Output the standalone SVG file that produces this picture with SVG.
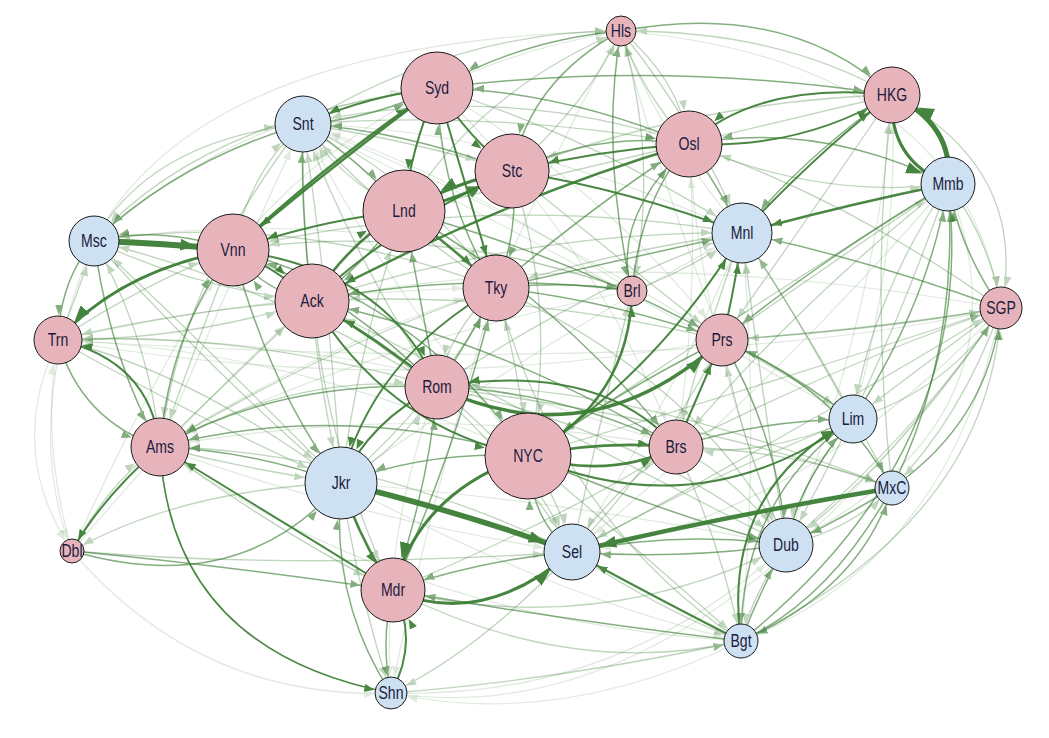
<svg xmlns="http://www.w3.org/2000/svg" width="1049" height="738" viewBox="0 0 1049 738">
<style>
#edges path{fill:none;stroke:#3c7e34}
.l1{stroke-width:1.2;opacity:.16}
.l2{stroke-width:1.3;opacity:.32}
.m{stroke-width:1.5;opacity:.62}
.s{stroke-width:2;opacity:.93}
.s3{stroke-width:3;opacity:.95}
.t4{stroke-width:4.5}
.t6{stroke-width:6}
marker path{fill:#3c7e34;stroke:none}
.node circle{stroke:#1a1a1a;stroke-width:1}
.p{fill:#e8b4bc}
.b{fill:#cde1f3}
.node text{font-family:'Liberation Sans',Arial,sans-serif;font-size:19px;fill:#1b1b3d;text-anchor:middle;dominant-baseline:central}
</style>
<defs>
<marker id="a12" markerUnits="userSpaceOnUse" markerWidth="10" markerHeight="8" refX="23" refY="4" orient="auto"><path d="M0,0L10,4L0,8z"/></marker>
<marker id="a15" markerUnits="userSpaceOnUse" markerWidth="10" markerHeight="8" refX="26" refY="4" orient="auto"><path d="M0,0L10,4L0,8z"/></marker>
<marker id="a16" markerUnits="userSpaceOnUse" markerWidth="10" markerHeight="8" refX="27" refY="4" orient="auto"><path d="M0,0L10,4L0,8z"/></marker>
<marker id="a17" markerUnits="userSpaceOnUse" markerWidth="10" markerHeight="8" refX="28" refY="4" orient="auto"><path d="M0,0L10,4L0,8z"/></marker>
<marker id="a21" markerUnits="userSpaceOnUse" markerWidth="10" markerHeight="8" refX="32" refY="4" orient="auto"><path d="M0,0L10,4L0,8z"/></marker>
<marker id="a24" markerUnits="userSpaceOnUse" markerWidth="10" markerHeight="8" refX="35" refY="4" orient="auto"><path d="M0,0L10,4L0,8z"/></marker>
<marker id="a25" markerUnits="userSpaceOnUse" markerWidth="10" markerHeight="8" refX="36" refY="4" orient="auto"><path d="M0,0L10,4L0,8z"/></marker>
<marker id="a26" markerUnits="userSpaceOnUse" markerWidth="10" markerHeight="8" refX="37" refY="4" orient="auto"><path d="M0,0L10,4L0,8z"/></marker>
<marker id="a27" markerUnits="userSpaceOnUse" markerWidth="10" markerHeight="8" refX="38" refY="4" orient="auto"><path d="M0,0L10,4L0,8z"/></marker>
<marker id="a28" markerUnits="userSpaceOnUse" markerWidth="10" markerHeight="8" refX="39" refY="4" orient="auto"><path d="M0,0L10,4L0,8z"/></marker>
<marker id="a29" markerUnits="userSpaceOnUse" markerWidth="10" markerHeight="8" refX="40" refY="4" orient="auto"><path d="M0,0L10,4L0,8z"/></marker>
<marker id="a30" markerUnits="userSpaceOnUse" markerWidth="10" markerHeight="8" refX="41" refY="4" orient="auto"><path d="M0,0L10,4L0,8z"/></marker>
<marker id="a32" markerUnits="userSpaceOnUse" markerWidth="10" markerHeight="8" refX="43" refY="4" orient="auto"><path d="M0,0L10,4L0,8z"/></marker>
<marker id="a33" markerUnits="userSpaceOnUse" markerWidth="10" markerHeight="8" refX="44" refY="4" orient="auto"><path d="M0,0L10,4L0,8z"/></marker>
<marker id="a36" markerUnits="userSpaceOnUse" markerWidth="10" markerHeight="8" refX="47" refY="4" orient="auto"><path d="M0,0L10,4L0,8z"/></marker>
<marker id="a37" markerUnits="userSpaceOnUse" markerWidth="10" markerHeight="8" refX="48" refY="4" orient="auto"><path d="M0,0L10,4L0,8z"/></marker>
<marker id="a41" markerUnits="userSpaceOnUse" markerWidth="10" markerHeight="8" refX="52" refY="4" orient="auto"><path d="M0,0L10,4L0,8z"/></marker>
<marker id="a43" markerUnits="userSpaceOnUse" markerWidth="10" markerHeight="8" refX="54" refY="4" orient="auto"><path d="M0,0L10,4L0,8z"/></marker>
<marker id="b24" markerUnits="userSpaceOnUse" markerWidth="16" markerHeight="12" refX="41" refY="6" orient="auto"><path d="M0,0L16,6L0,12z"/></marker>
<marker id="b26" markerUnits="userSpaceOnUse" markerWidth="16" markerHeight="12" refX="43" refY="6" orient="auto"><path d="M0,0L16,6L0,12z"/></marker>
<marker id="b27" markerUnits="userSpaceOnUse" markerWidth="16" markerHeight="12" refX="44" refY="6" orient="auto"><path d="M0,0L16,6L0,12z"/></marker>
<marker id="b28" markerUnits="userSpaceOnUse" markerWidth="16" markerHeight="12" refX="45" refY="6" orient="auto"><path d="M0,0L16,6L0,12z"/></marker>
<marker id="b32" markerUnits="userSpaceOnUse" markerWidth="16" markerHeight="12" refX="49" refY="6" orient="auto"><path d="M0,0L16,6L0,12z"/></marker>
<marker id="b36" markerUnits="userSpaceOnUse" markerWidth="16" markerHeight="12" refX="53" refY="6" orient="auto"><path d="M0,0L16,6L0,12z"/></marker>
<marker id="b41" markerUnits="userSpaceOnUse" markerWidth="16" markerHeight="12" refX="58" refY="6" orient="auto"><path d="M0,0L16,6L0,12z"/></marker>
</defs>
<rect width="1049" height="738" fill="#ffffff"/>
<g id="edges">
<!-- faint -->
<path class="l1" d="M94,241 Q200,40 621,31" marker-end="url(#a15)"/>
<path class="l1" d="M58,340 Q5,450 72,551" marker-end="url(#a12)"/>
<path class="l1" d="M72,551 Q40,440 58,340" marker-end="url(#a24)"/>
<path class="l1" d="M741,641 Q560,730 391,693" marker-end="url(#a16)"/>
<path class="l1" d="M391,693 Q620,700 786,545" marker-end="url(#a27)"/>
<path class="l1" d="M1001,308 Q950,560 741,641" marker-end="url(#a17)"/>
<path class="l1" d="M1001,308 Q800,520 572,552" marker-end="url(#a28)"/>
<path class="l1" d="M160,447 Q230,280 303,124" marker-end="url(#a28)"/>
<path class="l1" d="M58,340 Q280,290 496,288" marker-end="url(#a33)"/>
<path class="l1" d="M786,545 Q700,340 689,144" marker-end="url(#a33)"/>
<path class="l1" d="M853,419 Q900,250 892,95" marker-end="url(#a28)"/>
<path class="l1" d="M722,340 Q400,400 58,340" marker-end="url(#a24)"/>
<path class="l1" d="M233,250 Q380,70 621,31" marker-end="url(#a15)"/>
<path class="l1" d="M786,545 Q880,300 892,95" marker-end="url(#a28)"/>
<path class="l1" d="M1001,308 Q700,380 58,340" marker-end="url(#a24)"/>
<path class="l1" d="M1001,308 Q620,240 312,301" marker-end="url(#a37)"/>
<path class="l1" d="M72,551 Q200,700 391,693" marker-end="url(#a16)"/>
<path class="l1" d="M391,693 Q700,740 1001,308" marker-end="url(#a21)"/>
<path class="l1" d="M948,184 Q1040,420 786,545" marker-end="url(#a27)"/>
<path class="l1" d="M621,31 Q960,60 1001,308" marker-end="url(#a21)"/>
<path class="l1" d="M94,241 Q20,420 72,551" marker-end="url(#a12)"/>
<path class="l1" d="M741,641 Q400,620 160,447" marker-end="url(#a29)"/>
<path class="l1" d="M303,124 Q560,250 853,419" marker-end="url(#a24)"/>
<path class="l1" d="M528,456 Q380,280 303,124" marker-end="url(#a28)"/>
<path class="l1" d="M632,291 Q450,170 303,124" marker-end="url(#a28)"/>
<path class="l1" d="M722,340 Q500,200 303,124" marker-end="url(#a28)"/>
<path class="l1" d="M742,233 Q520,130 303,124" marker-end="url(#a28)"/>
<path class="l1" d="M632,291 Q360,200 94,241" marker-end="url(#a25)"/>
<path class="l1" d="M528,456 Q300,350 58,340" marker-end="url(#a24)"/>
<path class="l1" d="M676,447 Q360,330 58,340" marker-end="url(#a24)"/>
<path class="l1" d="M632,291 Q380,340 160,447" marker-end="url(#a29)"/>
<path class="l1" d="M676,447 Q420,400 160,447" marker-end="url(#a29)"/>
<path class="l1" d="M496,288 Q430,500 391,693" marker-end="url(#a16)"/>
<path class="l1" d="M437,387 Q380,540 391,693" marker-end="url(#a16)"/>
<path class="l1" d="M496,288 Q560,140 621,31" marker-end="url(#a15)"/>
<path class="l1" d="M722,340 Q660,180 621,31" marker-end="url(#a15)"/>
<path class="l1" d="M742,233 Q650,120 621,31" marker-end="url(#a15)"/>
<path class="l1" d="M741,641 Q760,430 742,233" marker-end="url(#a30)"/>
<path class="l1" d="M572,552 Q680,390 742,233" marker-end="url(#a30)"/>
<path class="l1" d="M341,483 Q560,330 742,233" marker-end="url(#a30)"/>
<path class="l1" d="M341,483 Q560,500 786,545" marker-end="url(#a27)"/>
<path class="l1" d="M160,447 Q360,520 572,552" marker-end="url(#a28)"/>
<path class="l1" d="M341,483 Q560,600 741,641" marker-end="url(#a17)"/>
<path class="l1" d="M689,144 Q700,300 676,447" marker-end="url(#a27)"/>
<path class="l1" d="M437,88 Q600,250 676,447" marker-end="url(#a27)"/>
<path class="l1" d="M437,88 Q620,200 722,340" marker-end="url(#a26)"/>
<path class="l1" d="M94,241 Q240,110 437,88" marker-end="url(#a36)"/>
<path class="l1" d="M72,551 Q150,380 233,250" marker-end="url(#a36)"/>
<path class="l1" d="M72,551 Q200,400 312,301" marker-end="url(#a37)"/>
<path class="l1" d="M948,184 Q760,400 572,552" marker-end="url(#a28)"/>
<path class="l1" d="M160,447 Q330,340 496,288" marker-end="url(#a33)"/>
<!-- light -->
<path class="l2" d="M391,693 Q560,680 741,641" marker-end="url(#a17)"/>
<path class="l2" d="M892,95 Q1030,170 1001,308" marker-end="url(#a21)"/>
<path class="l2" d="M892,95 Q780,30 621,31" marker-end="url(#a15)"/>
<path class="l2" d="M72,551 Q110,480 160,447" marker-end="url(#a29)"/>
<path class="l2" d="M303,124 Q300,300 341,483" marker-end="url(#a36)"/>
<path class="l2" d="M341,483 Q330,300 303,124" marker-end="url(#a28)"/>
<path class="l2" d="M303,124 Q180,280 160,447" marker-end="url(#a29)"/>
<path class="l2" d="M312,301 Q180,310 58,340" marker-end="url(#a24)"/>
<path class="l2" d="M58,340 Q190,340 312,301" marker-end="url(#a37)"/>
<path class="l2" d="M58,340 Q200,420 341,483" marker-end="url(#a36)"/>
<path class="l2" d="M160,447 Q250,360 312,301" marker-end="url(#a37)"/>
<path class="l2" d="M160,447 Q300,370 437,387" marker-end="url(#a32)"/>
<path class="l2" d="M160,447 Q250,470 341,483" marker-end="url(#a36)"/>
<path class="l2" d="M341,483 Q360,340 404,211" marker-end="url(#a41)"/>
<path class="l2" d="M393,590 Q560,520 676,447" marker-end="url(#a27)"/>
<path class="l2" d="M393,590 Q600,640 786,545" marker-end="url(#a27)"/>
<path class="l2" d="M393,590 Q570,680 741,641" marker-end="url(#a17)"/>
<path class="l2" d="M572,552 Q660,460 722,340" marker-end="url(#a26)"/>
<path class="l2" d="M572,552 Q600,420 632,291" marker-end="url(#a15)"/>
<path class="l2" d="M786,545 Q760,380 742,233" marker-end="url(#a30)"/>
<path class="l2" d="M853,419 Q800,320 742,233" marker-end="url(#a30)"/>
<path class="l2" d="M632,291 Q430,220 233,250" marker-end="url(#a36)"/>
<path class="l2" d="M742,233 Q620,250 496,288" marker-end="url(#a33)"/>
<path class="l2" d="M689,144 Q500,80 303,124" marker-end="url(#a28)"/>
<path class="l2" d="M404,211 Q480,90 621,31" marker-end="url(#a15)"/>
<path class="l2" d="M742,233 Q480,190 233,250" marker-end="url(#a36)"/>
<path class="l2" d="M722,340 Q520,290 312,301" marker-end="url(#a37)"/>
<path class="l2" d="M676,447 Q800,450 892,488" marker-end="url(#a17)"/>
<path class="l2" d="M786,545 Q850,530 892,488" marker-end="url(#a17)"/>
<path class="l2" d="M1001,308 Q930,360 853,419" marker-end="url(#a24)"/>
<path class="l2" d="M1001,308 Q960,420 892,488" marker-end="url(#a17)"/>
<path class="l2" d="M853,419 Q950,390 1001,308" marker-end="url(#a21)"/>
<path class="l2" d="M741,641 Q990,520 1001,308" marker-end="url(#a21)"/>
<path class="l2" d="M572,552 Q800,430 1001,308" marker-end="url(#a21)"/>
<path class="l2" d="M528,456 Q780,380 1001,308" marker-end="url(#a21)"/>
<path class="l2" d="M437,387 Q600,280 742,233" marker-end="url(#a30)"/>
<path class="l2" d="M496,288 Q450,330 437,387" marker-end="url(#a32)"/>
<path class="l2" d="M341,483 Q400,450 437,387" marker-end="url(#a32)"/>
<path class="l2" d="M437,387 Q530,460 572,552" marker-end="url(#a28)"/>
<path class="l2" d="M341,483 Q440,400 496,288" marker-end="url(#a33)"/>
<path class="l2" d="M689,144 Q820,200 948,184" marker-end="url(#a27)"/>
<path class="l2" d="M948,184 Q800,300 676,447" marker-end="url(#a27)"/>
<path class="l2" d="M948,184 Q870,300 853,419" marker-end="url(#a24)"/>
<path class="l2" d="M892,488 Q870,290 892,95" marker-end="url(#a28)"/>
<path class="l2" d="M621,31 Q700,130 742,233" marker-end="url(#a30)"/>
<path class="l2" d="M621,31 Q660,160 632,291" marker-end="url(#a15)"/>
<path class="l2" d="M512,171 Q620,260 722,340" marker-end="url(#a26)"/>
<path class="l2" d="M233,250 Q190,360 160,447" marker-end="url(#a29)"/>
<path class="l2" d="M404,211 Q340,180 303,124" marker-end="url(#a28)"/>
<path class="l2" d="M303,124 Q420,180 496,288" marker-end="url(#a33)"/>
<path class="l2" d="M160,447 Q150,340 94,241" marker-end="url(#a25)"/>
<path class="l2" d="M94,241 Q220,380 341,483" marker-end="url(#a36)"/>
<path class="l2" d="M341,483 Q200,340 94,241" marker-end="url(#a25)"/>
<path class="l2" d="M58,340 Q80,290 94,241" marker-end="url(#a25)"/>
<path class="l2" d="M94,241 Q200,290 312,301" marker-end="url(#a37)"/>
<path class="l2" d="M437,88 Q200,120 94,241" marker-end="url(#a25)"/>
<path class="l2" d="M72,551 Q300,570 572,552" marker-end="url(#a28)"/>
<path class="l2" d="M341,483 Q180,490 72,551" marker-end="url(#a12)"/>
<path class="l2" d="M341,483 Q360,600 391,693" marker-end="url(#a16)"/>
<path class="l2" d="M572,552 Q480,650 391,693" marker-end="url(#a16)"/>
<path class="l2" d="M528,456 Q560,500 572,552" marker-end="url(#a28)"/>
<path class="l2" d="M676,447 Q610,490 572,552" marker-end="url(#a28)"/>
<path class="l2" d="M676,447 Q740,480 786,545" marker-end="url(#a27)"/>
<path class="l2" d="M722,340 Q800,380 853,419" marker-end="url(#a24)"/>
<path class="l2" d="M786,545 Q740,440 722,340" marker-end="url(#a26)"/>
<path class="l2" d="M853,419 Q800,480 786,545" marker-end="url(#a27)"/>
<path class="l2" d="M786,545 Q750,600 741,641" marker-end="url(#a17)"/>
<path class="l2" d="M853,419 Q700,480 572,552" marker-end="url(#a28)"/>
<path class="l2" d="M892,488 Q820,350 742,233" marker-end="url(#a30)"/>
<path class="l2" d="M1001,308 Q850,200 689,144" marker-end="url(#a33)"/>
<path class="l2" d="M948,184 Q990,240 1001,308" marker-end="url(#a21)"/>
<path class="l2" d="M303,124 Q460,30 621,31" marker-end="url(#a15)"/>
<path class="l2" d="M496,288 Q520,370 528,456" marker-end="url(#a43)"/>
<path class="l2" d="M496,288 Q700,380 786,545" marker-end="url(#a27)"/>
<path class="l2" d="M512,171 Q560,320 528,456" marker-end="url(#a43)"/>
<path class="l2" d="M312,301 Q480,400 572,552" marker-end="url(#a28)"/>
<path class="l2" d="M312,301 Q330,460 393,590" marker-end="url(#a32)"/>
<path class="l2" d="M437,387 Q640,430 786,545" marker-end="url(#a27)"/>
<path class="l2" d="M437,387 Q700,420 892,488" marker-end="url(#a17)"/>
<path class="l2" d="M160,447 Q290,540 393,590" marker-end="url(#a32)"/>
<path class="l2" d="M94,241 Q150,140 303,124" marker-end="url(#a28)"/>
<path class="l2" d="M1001,308 Q880,330 722,340" marker-end="url(#a26)"/>
<path class="l2" d="M948,184 Q760,300 528,456" marker-end="url(#a43)"/>
<path class="l2" d="M892,95 Q620,160 404,211" marker-end="url(#a41)"/>
<path class="l2" d="M892,488 Q620,380 437,387" marker-end="url(#a32)"/>
<path class="l2" d="M786,545 Q540,420 312,301" marker-end="url(#a37)"/>
<path class="l2" d="M741,641 Q560,520 496,288" marker-end="url(#a33)"/>
<path class="l2" d="M496,288 Q390,220 303,124" marker-end="url(#a28)"/>
<path class="l2" d="M437,387 Q350,250 303,124" marker-end="url(#a28)"/>
<path class="l2" d="M496,288 Q290,210 94,241" marker-end="url(#a25)"/>
<path class="l2" d="M437,387 Q260,280 94,241" marker-end="url(#a25)"/>
<path class="l2" d="M437,387 Q240,330 58,340" marker-end="url(#a24)"/>
<path class="l2" d="M341,483 Q190,370 58,340" marker-end="url(#a24)"/>
<path class="l2" d="M496,288 Q320,350 160,447" marker-end="url(#a29)"/>
<path class="l2" d="M572,552 Q360,450 160,447" marker-end="url(#a29)"/>
<path class="l2" d="M722,340 Q870,330 1001,308" marker-end="url(#a21)"/>
<path class="l2" d="M676,447 Q850,360 1001,308" marker-end="url(#a21)"/>
<path class="l2" d="M786,545 Q920,430 1001,308" marker-end="url(#a21)"/>
<path class="l2" d="M621,31 Q680,80 689,144" marker-end="url(#a33)"/>
<path class="l2" d="M689,144 Q640,90 621,31" marker-end="url(#a15)"/>
<path class="l2" d="M512,171 Q590,100 621,31" marker-end="url(#a15)"/>
<path class="l2" d="M632,291 Q690,270 742,233" marker-end="url(#a30)"/>
<path class="l2" d="M722,340 Q850,250 948,184" marker-end="url(#a27)"/>
<path class="l2" d="M312,301 Q530,230 742,233" marker-end="url(#a30)"/>
<path class="l2" d="M572,552 Q660,610 741,641" marker-end="url(#a17)"/>
<path class="l2" d="M676,447 Q720,540 741,641" marker-end="url(#a17)"/>
<path class="l2" d="M528,456 Q650,560 741,641" marker-end="url(#a17)"/>
<path class="l2" d="M853,419 Q760,460 676,447" marker-end="url(#a27)"/>
<path class="l2" d="M742,233 Q700,350 676,447" marker-end="url(#a27)"/>
<path class="l2" d="M437,88 Q600,140 742,233" marker-end="url(#a30)"/>
<path class="l2" d="M303,124 Q500,110 689,144" marker-end="url(#a33)"/>
<path class="l2" d="M303,124 Q410,140 512,171" marker-end="url(#a37)"/>
<path class="l2" d="M233,250 Q250,170 303,124" marker-end="url(#a28)"/>
<path class="l2" d="M58,340 Q150,280 233,250" marker-end="url(#a36)"/>
<path class="l2" d="M892,95 Q700,100 512,171" marker-end="url(#a37)"/>
<path class="l2" d="M892,95 Q800,230 722,340" marker-end="url(#a26)"/>
<path class="l2" d="M948,184 Q880,380 786,545" marker-end="url(#a27)"/>
<path class="l2" d="M1001,308 Q900,460 786,545" marker-end="url(#a27)"/>
<!-- medium -->
<path class="m" d="M621,31 Q790,0 892,95" marker-end="url(#a28)"/>
<path class="m" d="M892,488 Q830,600 741,641" marker-end="url(#a17)"/>
<path class="m" d="M741,641 Q860,590 892,488" marker-end="url(#a17)"/>
<path class="m" d="M58,340 Q80,420 160,447" marker-end="url(#a29)"/>
<path class="m" d="M160,447 Q170,330 233,250" marker-end="url(#a36)"/>
<path class="m" d="M393,590 Q460,440 496,288" marker-end="url(#a33)"/>
<path class="m" d="M632,291 Q470,270 312,301" marker-end="url(#a37)"/>
<path class="m" d="M496,288 Q570,280 632,291" marker-end="url(#a15)"/>
<path class="m" d="M512,171 Q400,130 303,124" marker-end="url(#a28)"/>
<path class="m" d="M303,124 Q370,120 437,88" marker-end="url(#a36)"/>
<path class="m" d="M437,88 Q660,60 892,95" marker-end="url(#a28)"/>
<path class="m" d="M689,144 Q560,90 437,88" marker-end="url(#a36)"/>
<path class="m" d="M722,340 Q620,390 528,456" marker-end="url(#a43)"/>
<path class="m" d="M676,447 Q760,420 853,419" marker-end="url(#a24)"/>
<path class="m" d="M892,488 Q840,520 786,545" marker-end="url(#a27)"/>
<path class="m" d="M892,488 Q990,420 1001,308" marker-end="url(#a21)"/>
<path class="m" d="M437,387 Q470,340 496,288" marker-end="url(#a33)"/>
<path class="m" d="M892,95 Q800,160 742,233" marker-end="url(#a30)"/>
<path class="m" d="M948,184 Q820,120 689,144" marker-end="url(#a33)"/>
<path class="m" d="M632,291 Q640,200 689,144" marker-end="url(#a33)"/>
<path class="m" d="M496,288 Q600,200 689,144" marker-end="url(#a33)"/>
<path class="m" d="M512,171 Q600,130 689,144" marker-end="url(#a33)"/>
<path class="m" d="M404,211 Q580,260 722,340" marker-end="url(#a26)"/>
<path class="m" d="M404,211 Q560,300 676,447" marker-end="url(#a27)"/>
<path class="m" d="M233,250 Q420,300 528,456" marker-end="url(#a43)"/>
<path class="m" d="M233,250 Q270,390 341,483" marker-end="url(#a36)"/>
<path class="m" d="M312,301 Q260,290 233,250" marker-end="url(#a36)"/>
<path class="m" d="M404,211 Q360,270 312,301" marker-end="url(#a37)"/>
<path class="m" d="M312,301 Q300,210 303,124" marker-end="url(#a28)"/>
<path class="m" d="M303,124 Q360,160 404,211" marker-end="url(#a41)"/>
<path class="m" d="M94,241 Q110,360 160,447" marker-end="url(#a29)"/>
<path class="m" d="M303,124 Q180,160 94,241" marker-end="url(#a25)"/>
<path class="m" d="M391,693 Q330,600 341,483" marker-end="url(#a36)"/>
<path class="m" d="M572,552 Q480,560 393,590" marker-end="url(#a32)"/>
<path class="m" d="M393,590 Q430,480 437,387" marker-end="url(#a32)"/>
<path class="m" d="M528,456 Q430,450 341,483" marker-end="url(#a36)"/>
<path class="m" d="M528,456 Q340,400 160,447" marker-end="url(#a29)"/>
<path class="m" d="M528,456 Q680,520 786,545" marker-end="url(#a27)"/>
<path class="m" d="M676,447 Q500,340 312,301" marker-end="url(#a37)"/>
<path class="m" d="M722,340 Q780,440 786,545" marker-end="url(#a27)"/>
<path class="m" d="M722,340 Q840,390 892,488" marker-end="url(#a17)"/>
<path class="m" d="M741,641 Q760,590 786,545" marker-end="url(#a27)"/>
<path class="m" d="M572,552 Q680,530 786,545" marker-end="url(#a27)"/>
<path class="m" d="M786,545 Q680,560 572,552" marker-end="url(#a28)"/>
<path class="m" d="M741,641 Q560,620 393,590" marker-end="url(#a32)"/>
<path class="m" d="M1001,308 Q960,250 948,184" marker-end="url(#a27)"/>
<path class="m" d="M741,641 Q980,450 948,184" marker-end="url(#a27)"/>
<path class="m" d="M853,419 Q930,300 948,184" marker-end="url(#a27)"/>
<path class="m" d="M496,288 Q620,260 742,233" marker-end="url(#a30)"/>
<path class="m" d="M496,288 Q610,300 722,340" marker-end="url(#a26)"/>
<path class="m" d="M437,387 Q560,390 676,447" marker-end="url(#a27)"/>
<path class="m" d="M437,387 Q340,290 233,250" marker-end="url(#a36)"/>
<path class="m" d="M437,387 Q280,380 160,447" marker-end="url(#a29)"/>
<path class="m" d="M94,241 Q60,280 58,340" marker-end="url(#a24)"/>
<path class="m" d="M233,250 Q160,225 94,241" marker-end="url(#a25)"/>
<path class="m" d="M341,483 Q250,450 160,447" marker-end="url(#a29)"/>
<path class="m" d="M437,387 Q420,300 404,211" marker-end="url(#a41)"/>
<path class="m" d="M496,288 Q440,200 437,88" marker-end="url(#a36)"/>
<path class="m" d="M512,171 Q520,230 496,288" marker-end="url(#a33)"/>
<path class="m" d="M621,31 Q530,80 512,171" marker-end="url(#a37)"/>
<path class="m" d="M689,144 Q610,220 632,291" marker-end="url(#a15)"/>
<path class="m" d="M632,291 Q600,150 621,31" marker-end="url(#a15)"/>
<path class="m" d="M892,488 Q960,350 948,184" marker-end="url(#a27)"/>
<path class="m" d="M786,545 Q800,480 853,419" marker-end="url(#a24)"/>
<path class="m" d="M948,184 Q820,260 722,340" marker-end="url(#a26)"/>
<path class="m" d="M1001,308 Q870,260 742,233" marker-end="url(#a30)"/>
<path class="m" d="M853,419 Q790,370 722,340" marker-end="url(#a26)"/>
<path class="m" d="M689,144 Q720,190 742,233" marker-end="url(#a30)"/>
<path class="m" d="M621,31 Q520,40 437,88" marker-end="url(#a36)"/>
<path class="m" d="M72,551 Q220,565 393,590" marker-end="url(#a32)"/>
<path class="m" d="M72,551 Q240,600 341,483" marker-end="url(#a36)"/>
<path class="m" d="M393,590 Q380,640 391,693" marker-end="url(#a16)"/>
<path class="m" d="M572,552 Q530,520 528,456" marker-end="url(#a43)"/>
<path class="m" d="M853,419 Q740,500 741,641" marker-end="url(#a17)"/>
<!-- strong -->
<path class="s" d="M160,447 Q150,360 58,340" marker-end="url(#a24)"/>
<path class="s" d="M948,184 Q845,205 742,233" marker-end="url(#a30)" style="stroke-width:2.6"/>
<path class="s" d="M404,211 Q450,245 496,288" marker-end="url(#a33)" style="stroke-width:2.6"/>
<path class="s" d="M312,301 Q400,220 512,171" marker-end="url(#a37)"/>
<path class="s" d="M233,250 Q330,160 437,88" marker-end="url(#a36)" style="stroke-width:2.6"/>
<path class="s" d="M437,88 Q320,175 233,250" marker-end="url(#a36)" style="stroke-width:2.6"/>
<path class="s" d="M689,144 Q500,200 312,301" marker-end="url(#a37)" style="stroke-width:2.4"/>
<path class="s" d="M341,483 Q360,540 393,590" marker-end="url(#a32)" style="stroke-width:2.6"/>
<path class="s" d="M528,456 Q600,440 676,447" marker-end="url(#a27)" style="stroke-width:2.6"/>
<path class="s" d="M528,456 Q610,480 676,447" marker-end="url(#a27)" style="stroke-width:2.6"/>
<path class="s" d="M528,456 Q630,400 632,291" marker-end="url(#a15)" style="stroke-width:2.6"/>
<path class="s" d="M437,387 Q380,340 312,301" marker-end="url(#a37)" style="stroke-width:2.6"/>
<path class="s" d="M496,288 Q370,360 341,483" marker-end="url(#a36)"/>
<path class="s" d="M741,641 Q720,490 853,419" marker-end="url(#a24)"/>
<path class="s" d="M741,641 Q660,600 572,552" marker-end="url(#a28)"/>
<path class="s" d="M393,590 Q280,520 160,447" marker-end="url(#a29)"/>
<path class="s" d="M160,447 Q170,650 391,693" marker-end="url(#a16)" style="stroke-width:1.6"/>
<path class="s" d="M689,144 Q800,150 892,95" marker-end="url(#a28)"/>
<path class="s" d="M892,95 Q760,80 689,144" marker-end="url(#a33)"/>
<path class="s" d="M512,171 Q630,190 742,233" marker-end="url(#a30)"/>
<path class="s" d="M528,456 Q700,530 853,419" marker-end="url(#a24)"/>
<path class="s" d="M233,250 Q390,270 437,387" marker-end="url(#a32)"/>
<path class="s" d="M160,447 Q100,500 72,551" marker-end="url(#a12)"/>
<path class="s" d="M676,447 Q600,360 437,387" marker-end="url(#a32)"/>
<path class="s" d="M404,211 Q320,220 233,250" marker-end="url(#a36)"/>
<path class="s" d="M437,88 Q410,150 404,211" marker-end="url(#a41)"/>
<path class="s" d="M722,340 Q735,290 742,233" marker-end="url(#a30)"/>
<path class="s" d="M528,456 Q660,370 742,233" marker-end="url(#a30)"/>
<path class="s" d="M391,693 Q420,640 393,590" marker-end="url(#a32)"/>
<path class="s" d="M676,447 Q700,390 722,340" marker-end="url(#a26)"/>
<path class="s" d="M437,387 Q370,420 341,483" marker-end="url(#a36)"/>
<path class="s" d="M312,301 Q390,430 528,456" marker-end="url(#a43)"/>
<path class="s" d="M437,88 Q370,95 303,124" marker-end="url(#a28)"/>
<path class="s" d="M437,88 Q470,140 512,171" marker-end="url(#a37)"/>
<path class="s" d="M437,88 Q470,200 496,288" marker-end="url(#a33)"/>
<path class="s" d="M689,144 Q600,150 512,171" marker-end="url(#a37)"/>
<path class="s" d="M233,250 Q280,270 312,301" marker-end="url(#a37)"/>
<path class="s" d="M312,301 Q350,240 404,211" marker-end="url(#a41)" style="stroke-width:2.6"/>
<path class="s" d="M742,233 Q820,150 892,95" marker-end="url(#a28)"/>
<path class="s" d="M404,211 Q460,200 512,171" marker-end="url(#a37)" style="stroke-width:3"/>
<!-- heavy -->
<path class="s3" d="M512,171 Q460,180 404,211" marker-end="url(#b41)"/>
<path class="s3" d="M892,95 Q888,160 948,184" marker-end="url(#b27)"/>
<path class="s3" d="M393,590 Q480,630 572,552" marker-end="url(#b28)"/>
<path class="s3" d="M528,456 Q420,490 393,590" marker-end="url(#b32)"/>
<path class="s3" d="M437,387 Q590,460 722,340" marker-end="url(#b26)" style="stroke-width:3.5"/>
<path class="s3" d="M233,250 Q120,270 58,340" marker-end="url(#b24)"/>
<path class="s3 t4" d="M892,488 Q730,515 572,552" marker-end="url(#b28)"/>
<path class="s3 t4" d="M948,184 Q955,125 892,95" marker-end="url(#b28)" style="stroke-width:5"/>
<path class="s3 t4" d="M341,483 Q455,510 572,552" marker-end="url(#b28)" style="stroke-width:5.5"/>
<path class="s3 t6" d="M94,241 Q163,243 233,250" marker-end="url(#b36)"/>
</g>
<g id="n-Hls" class="node"><circle class="p" cx="621" cy="31" r="15"/><text transform="translate(621,31) scale(.74,1)">Hls</text></g>
<g id="n-Syd" class="node"><circle class="p" cx="437" cy="88" r="36"/><text transform="translate(437,88) scale(.74,1)">Syd</text></g>
<g id="n-Snt" class="node"><circle class="b" cx="303" cy="124" r="28"/><text transform="translate(303,124) scale(.74,1)">Snt</text></g>
<g id="n-HKG" class="node"><circle class="p" cx="892" cy="95" r="28"/><text transform="translate(892,95) scale(.74,1)">HKG</text></g>
<g id="n-Osl" class="node"><circle class="p" cx="689" cy="144" r="33"/><text transform="translate(689,144) scale(.74,1)">Osl</text></g>
<g id="n-Stc" class="node"><circle class="p" cx="512" cy="171" r="37"/><text transform="translate(512,171) scale(.74,1)">Stc</text></g>
<g id="n-Lnd" class="node"><circle class="p" cx="404" cy="211" r="41"/><text transform="translate(404,211) scale(.74,1)">Lnd</text></g>
<g id="n-Mmb" class="node"><circle class="b" cx="948" cy="184" r="27"/><text transform="translate(948,184) scale(.74,1)">Mmb</text></g>
<g id="n-Msc" class="node"><circle class="b" cx="94" cy="241" r="25"/><text transform="translate(94,241) scale(.74,1)">Msc</text></g>
<g id="n-Vnn" class="node"><circle class="p" cx="233" cy="250" r="36"/><text transform="translate(233,250) scale(.74,1)">Vnn</text></g>
<g id="n-Mnl" class="node"><circle class="b" cx="742" cy="233" r="30"/><text transform="translate(742,233) scale(.74,1)">Mnl</text></g>
<g id="n-Ack" class="node"><circle class="p" cx="312" cy="301" r="37"/><text transform="translate(312,301) scale(.74,1)">Ack</text></g>
<g id="n-Tky" class="node"><circle class="p" cx="496" cy="288" r="33"/><text transform="translate(496,288) scale(.74,1)">Tky</text></g>
<g id="n-Brl" class="node"><circle class="p" cx="632" cy="291" r="15"/><text transform="translate(632,291) scale(.74,1)">Brl</text></g>
<g id="n-SGP" class="node"><circle class="p" cx="1001" cy="308" r="21"/><text transform="translate(1001,308) scale(.74,1)">SGP</text></g>
<g id="n-Trn" class="node"><circle class="p" cx="58" cy="340" r="24"/><text transform="translate(58,340) scale(.74,1)">Trn</text></g>
<g id="n-Prs" class="node"><circle class="p" cx="722" cy="340" r="26"/><text transform="translate(722,340) scale(.74,1)">Prs</text></g>
<g id="n-Rom" class="node"><circle class="p" cx="437" cy="387" r="32"/><text transform="translate(437,387) scale(.74,1)">Rom</text></g>
<g id="n-Lim" class="node"><circle class="b" cx="853" cy="419" r="24"/><text transform="translate(853,419) scale(.74,1)">Lim</text></g>
<g id="n-Ams" class="node"><circle class="p" cx="160" cy="447" r="29"/><text transform="translate(160,447) scale(.74,1)">Ams</text></g>
<g id="n-Brs" class="node"><circle class="p" cx="676" cy="447" r="27"/><text transform="translate(676,447) scale(.74,1)">Brs</text></g>
<g id="n-NYC" class="node"><circle class="p" cx="528" cy="456" r="43"/><text transform="translate(528,456) scale(.74,1)">NYC</text></g>
<g id="n-Jkr" class="node"><circle class="b" cx="341" cy="483" r="36"/><text transform="translate(341,483) scale(.74,1)">Jkr</text></g>
<g id="n-MxC" class="node"><circle class="b" cx="892" cy="488" r="17"/><text transform="translate(892,488) scale(.74,1)">MxC</text></g>
<g id="n-Dbl" class="node"><circle class="p" cx="72" cy="551" r="12"/><text transform="translate(72,551) scale(.74,1)">Dbl</text></g>
<g id="n-Sel" class="node"><circle class="b" cx="572" cy="552" r="28"/><text transform="translate(572,552) scale(.74,1)">Sel</text></g>
<g id="n-Dub" class="node"><circle class="b" cx="786" cy="545" r="27"/><text transform="translate(786,545) scale(.74,1)">Dub</text></g>
<g id="n-Mdr" class="node"><circle class="p" cx="393" cy="590" r="32"/><text transform="translate(393,590) scale(.74,1)">Mdr</text></g>
<g id="n-Bgt" class="node"><circle class="b" cx="741" cy="641" r="17"/><text transform="translate(741,641) scale(.74,1)">Bgt</text></g>
<g id="n-Shn" class="node"><circle class="b" cx="391" cy="693" r="16"/><text transform="translate(391,693) scale(.74,1)">Shn</text></g>
</svg>
